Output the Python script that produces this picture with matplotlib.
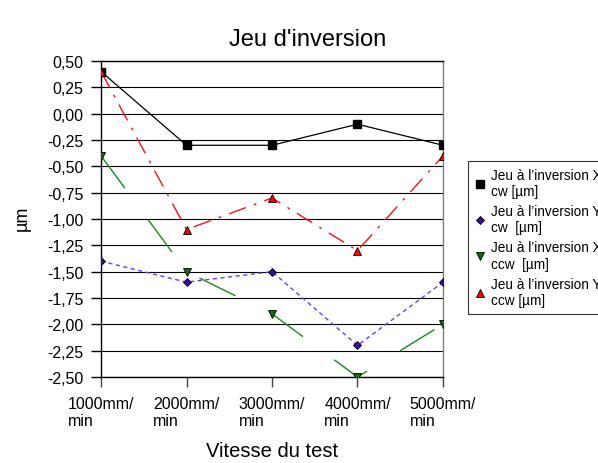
import matplotlib
matplotlib.use("Agg")
import matplotlib.pyplot as plt
from matplotlib.lines import Line2D
from matplotlib.ticker import FuncFormatter

plt.rcParams['font.family'] = ['Liberation Sans', 'DejaVu Sans']

# data
vitesses = ["1000mm/\nmin", "2000mm/\nmin", "3000mm/\nmin", "4000mm/\nmin", "5000mm/\nmin"]
x_cw = [0.4, -0.3, -0.3, -0.1, -0.3]
y_cw = [-1.4, -1.6, -1.5, -2.2, -1.6]
x_ccw = [-0.4, -1.5, -1.9, -2.5, -2.0]
y_ccw = [0.4, -1.1, -0.8, -1.3, -0.4]
labels = ["Jeu à l’inversion X\ncw [µm]", "Jeu à l’inversion Y\ncw  [µm]",
          "Jeu à l’inversion X\nccw  [µm]", "Jeu à l’inversion Y\nccw [µm]"]

fig = plt.figure(figsize=(5.98, 4.64), dpi=100)
ax = fig.add_axes([101/598, 1-378/464, (443-101)/598, (378-62)/464])

pos = list(range(len(vitesses)))

#grid lines first so the series sit on top
for v in [0.5 - 0.25*i for i in range(13)]:
    ax.axhline(v, color="black", lw=0.8, zorder=1)

ax.plot(pos, x_cw, color="black", lw=0.9, marker="s", ms=5.5, mfc="black", mec="black", zorder=3)
ax.plot(pos, y_cw, color="#6a3cf0", lw=1.0, linestyle=(0, (3, 2.5)), marker="D", ms=4.5,
        mfc="#3a0aa8", mec="black", mew=0.6, zorder=3)
ax.plot(pos, x_ccw, color="#1a8a1a", lw=1.0, linestyle=(0, (29, 28)), marker="v", ms=6,
        mfc="#0a700a", mec="black", mew=0.6, zorder=3)
ax.plot(pos, y_ccw, color="#ff1010", lw=1.0, linestyle=(0, (13, 6, 2, 6)), marker="^", ms=6,
        mfc="#ff0000", mec="black", mew=0.6, zorder=3)

ax.set_xlim(0, len(vitesses)-1)
ax.set_ylim(-2.5, 0.5)
ax.set_xticks(pos)
ax.set_xticklabels(vitesses, fontsize=11.5)
for t in ax.get_xticklabels():
    t.set_multialignment("left")
ax.set_yticks([0.5 - 0.25*i for i in range(13)])
ax.yaxis.set_major_formatter(FuncFormatter(lambda v, p: f"{v:.2f}".replace(".", ",")))
ax.tick_params(axis="y", labelsize=11.5, length=7.5, width=1, direction="out", pad=5)
ax.tick_params(axis="x", length=7.5, width=1, direction="out", pad=6, color="#444444")

for s in ["left", "bottom", "top"]:
    ax.spines[s].set_color("black")
    ax.spines[s].set_linewidth(1)
ax.spines["right"].set_color("#808080")
ax.spines["right"].set_linewidth(1)

fig.text(308/598, 1-40/464, "Jeu d'inversion", fontsize=17, ha="center", va="center")
fig.text(272/598, 1-452/464, "Vitesse du test", fontsize=14.5, ha="center", va="center")
fig.text(22/598, 1-218/464, "µm", fontsize=13, ha="center", va="center", rotation=90)

handles = [
    Line2D([], [], linestyle="None", marker="s", ms=5.5, mfc="black", mec="black"),
    Line2D([], [], linestyle="None", marker="D", ms=4.5, mfc="#3a0aa8", mec="black", mew=0.6),
    Line2D([], [], linestyle="None", marker="v", ms=6, mfc="#0a700a", mec="black", mew=0.6),
    Line2D([], [], linestyle="None", marker="^", ms=6, mfc="#ff0000", mec="black", mew=0.6),
]
leg = fig.legend(handles, labels, loc="upper left", bbox_to_anchor=(468/598, 1-162/464),
                 fontsize=9.8, frameon=True, fancybox=False, edgecolor="black",
                 handlelength=0.8, handletextpad=0.4, borderpad=0.5, labelspacing=0.45,
                 borderaxespad=0)
leg.get_frame().set_linewidth(0.8)

fig.savefig("out.png", dpi=100)
